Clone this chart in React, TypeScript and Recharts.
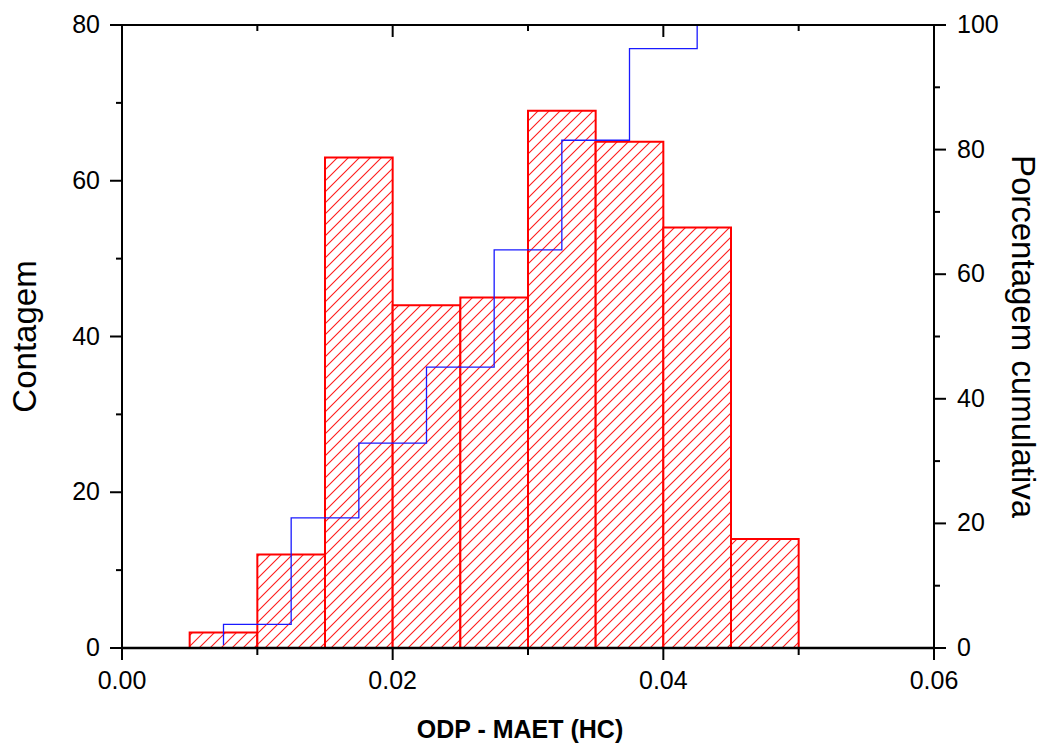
import React from 'react';
import { ComposedChart, Line, XAxis, YAxis, ReferenceArea } from 'recharts';

const binEdges = [0.005, 0.01, 0.015, 0.02, 0.025, 0.03, 0.035, 0.04, 0.045, 0.05];
const counts = [2, 12, 63, 44, 45, 69, 65, 54, 14];
const cumX = [0.0075, 0.0125, 0.0175, 0.0225, 0.0275, 0.0325, 0.0375, 0.0425, 0.0475];
const cumPct = [0.5, 3.8, 20.9, 32.9, 45.1, 63.9, 81.5, 96.2, 100];
const xTicks = [0, 0.01, 0.02, 0.03, 0.04, 0.05, 0.06];
const leftTicks = [0, 10, 20, 30, 40, 50, 60, 70, 80];
const rightTicks = [0, 10, 20, 30, 40, 50, 60, 70, 80, 90, 100];

const data = cumX.map((x, i) => ({ x, cum: cumPct[i] }));
const bins = counts.map((c, i) => ({ x1: binEdges[i], x2: binEdges[i + 1], count: c }));

const FONT = "'Liberation Sans', Arial, sans-serif";

function BottomTick(props: any) {
  const { x, y, payload, index } = props;
  const major = index % 2 === 0;
  return (
    <g>
      <line x1={x} x2={x} y1={y} y2={y + (major ? 12 : 7)} stroke="#000" strokeWidth={2} />
      {major && (
        <text x={x} y={y + 41} textAnchor="middle" fontSize={25} fontFamily={FONT} fill="#000">
          {Number(payload.value).toFixed(2)}
        </text>
      )}
    </g>
  );
}

function TopTick(props: any) {
  const { x, y, index } = props;
  const major = index % 2 === 0;
  return <line x1={x} x2={x} y1={y} y2={y + (major ? 12 : 6)} stroke="#000" strokeWidth={2} />;
}

function LeftTick(props: any) {
  const { x, y, payload } = props;
  const major = payload.value % 20 === 0;
  return (
    <g>
      <line x1={x} x2={x - (major ? 12 : 6)} y1={y} y2={y} stroke="#000" strokeWidth={2} />
      {major && (
        <text x={x - 22} y={y + 8} textAnchor="end" fontSize={25} fontFamily={FONT} fill="#000">
          {payload.value}
        </text>
      )}
    </g>
  );
}

function RightTick(props: any) {
  const { x, y, payload } = props;
  const major = payload.value % 20 === 0;
  return (
    <g>
      <line x1={x} x2={x + (major ? 12 : 6)} y1={y} y2={y} stroke="#000" strokeWidth={2} />
      {major && (
        <text x={x + 23} y={y + 8} textAnchor="start" fontSize={25} fontFamily={FONT} fill="#000">
          {payload.value}
        </text>
      )}
    </g>
  );
}

export default function App() {
  return (
    <div style={{ position: 'absolute', left: 0, top: 0, background: '#fff' }}>
      <ComposedChart width={1045} height={749} data={data} margin={{ top: 24, right: 0, bottom: 0, left: 0 }}>
        <defs>
          <pattern id="redHatch" patternUnits="userSpaceOnUse" width={11} height={11}>
            <rect x={0} y={0} width={11} height={11} fill="#ffffff" />
            <path
              d="M-1,1 L1,-1 M0,11 L11,0 M10,12 L12,10"
              fill="none"
              style={{ stroke: '#ff1a1a', strokeWidth: 1.1 }}
            />
          </pattern>
        </defs>
        <XAxis
          xAxisId="bottom"
          dataKey="x"
          type="number"
          domain={[0, 0.06]}
          ticks={xTicks}
          interval={0}
          allowDataOverflow
          height={101}
          axisLine={{ stroke: '#000', strokeWidth: 2.5 }}
          tickLine={false}
          tickSize={0}
          tickMargin={0}
          tick={<BottomTick />}
          label={{
            value: 'ODP - MAET (HC)',
            position: 'insideBottom',
            offset: 11,
            dx: -8,
            fontSize: 25,
            fontWeight: 'bold',
            fontFamily: FONT,
            fill: '#000',
          }}
        />
        <XAxis
          xAxisId="top"
          orientation="top"
          dataKey="x"
          type="number"
          domain={[0, 0.06]}
          ticks={xTicks}
          interval={0}
          allowDataOverflow
          height={1}
          axisLine={{ stroke: '#000', strokeWidth: 2 }}
          tickLine={false}
          tickSize={0}
          tickMargin={0}
          tick={<TopTick />}
        />
        <YAxis
          yAxisId="left"
          orientation="left"
          type="number"
          domain={[0, 80]}
          ticks={leftTicks}
          interval={0}
          allowDataOverflow
          width={122}
          axisLine={{ stroke: '#000', strokeWidth: 2 }}
          tickLine={false}
          tickSize={0}
          tickMargin={0}
          tick={<LeftTick />}
          label={{
            value: 'Contagem',
            angle: -90,
            position: 'insideLeft',
            offset: 24,
            fontSize: 33,
            fontFamily: FONT,
            fill: '#000',
            style: { textAnchor: 'middle' },
          }}
        />
        <YAxis
          yAxisId="right"
          orientation="right"
          type="number"
          domain={[0, 100]}
          ticks={rightTicks}
          interval={0}
          allowDataOverflow
          width={111}
          axisLine={{ stroke: '#000', strokeWidth: 2 }}
          tickLine={false}
          tickSize={0}
          tickMargin={0}
          tick={<RightTick />}
          label={{
            value: 'Porcentagem cumulativa',
            angle: 90,
            position: 'insideRight',
            offset: 21,
            fontSize: 33,
            fontFamily: FONT,
            fill: '#000',
            style: { textAnchor: 'middle' },
          }}
        />
        {bins.map((b, i) => (
          <ReferenceArea
            key={i}
            xAxisId="bottom"
            yAxisId="left"
            x1={b.x1}
            x2={b.x2}
            y1={0}
            y2={b.count}
            fill="url(#redHatch)"
            fillOpacity={1}
            stroke="#ff0000"
            strokeWidth={2}
            ifOverflow="visible"
          />
        ))}
        <Line
          xAxisId="bottom"
          yAxisId="right"
          dataKey="cum"
          type="stepBefore"
          stroke="#1a1aff"
          strokeWidth={1.3}
          dot={false}
          activeDot={false}
          isAnimationActive={false}
        />
      </ComposedChart>
    </div>
  );
}
